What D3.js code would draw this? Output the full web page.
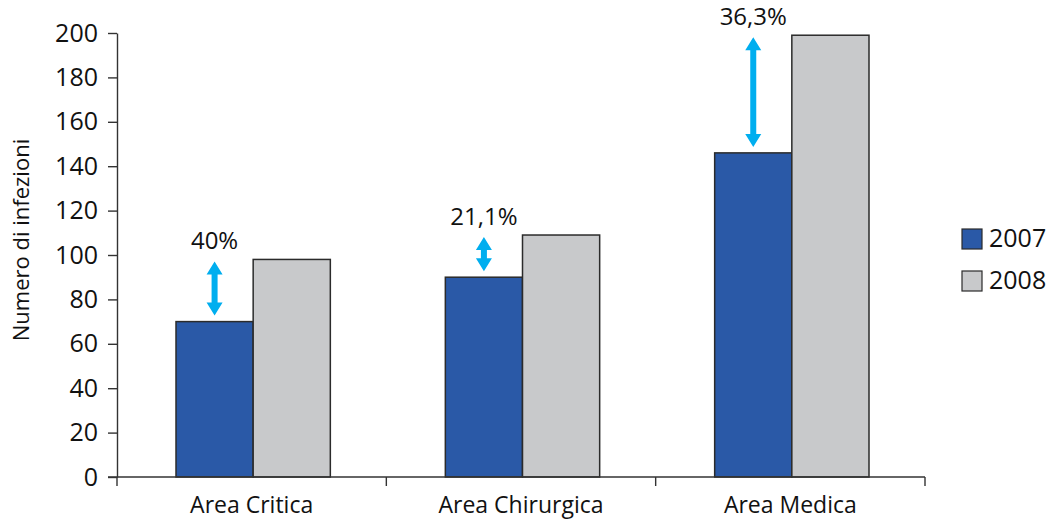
<!DOCTYPE html>
<html lang="it">
  <head>
    <meta charset="utf-8">
    <title>Numero di infezioni 2007-2008</title>
    <style>
      body { margin: 0; background: #fff; }
      text { font-family: "Open Sans", "DejaVu Sans", sans-serif; fill: #111; }
      .axis path, .axis line { stroke: #333; stroke-width: 1.4px; }
      .bar { stroke: #2b2b2b; stroke-width: 1.5px; }
    </style>
  </head>
  <body>
    <svg id="chart" width="1053" height="524"></svg>

    <script src="https://cdnjs.cloudflare.com/ajax/libs/d3/7.8.5/d3.min.js"></script>
    <script>
    // data
    const categories = ['Area Critica', 'Area Chirurgica', 'Area Medica'];
    const years = ['2007', '2008'];
    const values2007 = [70, 90, 146];
    const values2008 = [98, 109, 199];
    const changeLabels = ['40%', '21,1%', '36,3%'];
    const yTicks = [0, 20, 40, 60, 80, 100, 120, 140, 160, 180, 200];

    const colors = {'2007': '#2a59a7', '2008': '#c8c9cb'};
    const arrowColor = '#00aeef';

    const margin = {top: 33, left: 117, bottom: 47};
    const plotRight = 925;
    const height = 524 - margin.bottom - margin.top;

    const svg = d3.select('#chart');
    const g = svg.append('g')
      .attr('transform', 'translate(' + margin.left + ',' + margin.top + ')');

    const x = d3.scaleBand()
      .domain(categories)
      .range([0, plotRight - margin.left]);
    const xYear = d3.scaleBand()
      .domain(years)
      .range([59, x.bandwidth() - 56]);
    const y = d3.scaleLinear().domain([0, 200]).range([height, 0]);

    const rows = categories.map(function(c, i) {
      return {cat: c, v2007: values2007[i], v2008: values2008[i], label: changeLabels[i]};
    });

    // bars
    const groups = g.selectAll('.grp')
      .data(rows)
      .enter().append('g')
      .attr('class', 'grp')
      .attr('transform', function(d) { return 'translate(' + x(d.cat) + ',0)'; });

    groups.selectAll('rect')
      .data(function(d) {
        return [{year: '2007', v: d.v2007}, {year: '2008', v: d.v2008}];
      })
      .enter().append('rect')
      .attr('class', 'bar')
      .attr('x', function(d) { return xYear(d.year); })
      .attr('y', function(d) { return y(d.v); })
      .attr('width', xYear.bandwidth())
      .attr('height', function(d) { return height - y(d.v); })
      .attr('fill', function(d) { return colors[d.year]; });

    // double arrows between the two years
    const headLen = 13, headHalf = 8, shaftHalf = 3;
    groups.append('path')
      .attr('fill', arrowColor)
      .attr('d', function(d) {
        const cx = xYear('2007') + xYear.bandwidth() / 2;
        const top = y(d.v2008) + 2;
        const bot = y(d.v2007) - 6;
        return 'M' + cx + ',' + top +
          'L' + (cx + headHalf) + ',' + (top + headLen) +
          'L' + (cx + shaftHalf) + ',' + (top + headLen) +
          'L' + (cx + shaftHalf) + ',' + (bot - headLen) +
          'L' + (cx + headHalf) + ',' + (bot - headLen) +
          'L' + cx + ',' + bot +
          'L' + (cx - headHalf) + ',' + (bot - headLen) +
          'L' + (cx - shaftHalf) + ',' + (bot - headLen) +
          'L' + (cx - shaftHalf) + ',' + (top + headLen) +
          'L' + (cx - headHalf) + ',' + (top + headLen) + 'Z';
      });

    groups.append('text')
      .attr('x', xYear('2007') + xYear.bandwidth() / 2)
      .attr('y', function(d) { return y(d.v2008) - 10; })
      .attr('text-anchor', 'middle')
      .style('font-size', '24px')
      .text(function(d) { return d.label; });

    // x axis
    const xAxis = g.append('g')
      .attr('class', 'axis axis-x')
      .attr('transform', 'translate(0,' + height + ')')
      .call(d3.axisBottom(x).tickSize(0).tickSizeOuter(0).tickPadding(20));
    xAxis.select('.domain').attr('d', 'M-9,0H' + (plotRight - margin.left));
    xAxis.selectAll('text').style('font-size', '23px').attr('dy', '0.71em');
    xAxis.selectAll('.sep')
      .data(categories)
      .enter().append('line')
      .attr('class', 'sep')
      .attr('x1', function(d) { return x(d); })
      .attr('x2', function(d) { return x(d); })
      .attr('y1', 0)
      .attr('y2', 9);
    xAxis.append('line')
      .attr('x1', x.range()[1]).attr('x2', x.range()[1])
      .attr('y1', 0).attr('y2', 9);

    // y axis
    const yAxis = g.append('g')
      .attr('class', 'axis axis-y')
      .call(d3.axisLeft(y).tickValues(yTicks).tickSize(9).tickSizeOuter(0).tickPadding(10));
    yAxis.selectAll('text').style('font-size', '25px');

    g.append('text')
      .attr('transform', 'rotate(-90)')
      .attr('x', -(y(0) + y(200)) / 2 + 15)
      .attr('y', -88)
      .attr('text-anchor', 'middle')
      .style('font-size', '22px')
      .text('Numero di infezioni');

    // legend
    const legend = svg.append('g')
      .attr('transform', 'translate(962,229)');
    const items = legend.selectAll('.item')
      .data(years)
      .enter().append('g')
      .attr('class', 'item')
      .attr('transform', function(d, i) { return 'translate(0,' + (i * 42) + ')'; });
    items.append('rect')
      .attr('width', 20)
      .attr('height', 20)
      .attr('fill', function(d) { return colors[d]; })
      .attr('stroke', '#2b2b2b')
      .attr('stroke-width', 1.2);
    items.append('text')
      .attr('x', 27)
      .attr('y', 18)
      .style('font-size', '25px')
      .text(function(d) { return d; });
    </script>
  </body>
</html>
